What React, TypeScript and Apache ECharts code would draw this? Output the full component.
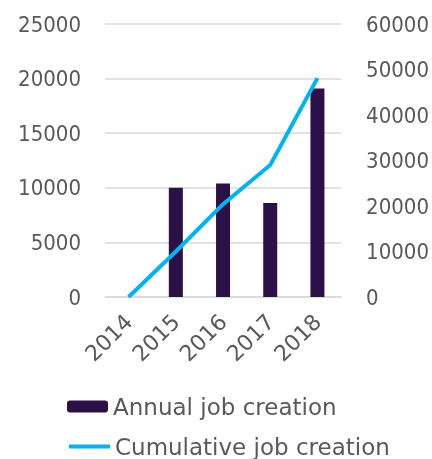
import React, { useEffect, useRef } from "react";
import * as echarts from "echarts";

const years = ["2014", "2015", "2016", "2017", "2018"];
const annualJobs = [null, 10000, 10400, 8600, 19100];
const cumulativeJobs = [0, 10000, 20400, 29000, 48100];
const leftTicks = { min: 0, max: 25000, interval: 5000 };
const rightTicks = { min: 0, max: 60000, interval: 10000 };

const FONT = "'DejaVu Sans Condensed', 'Noto Sans'";
const WIDE = "'DejaVu Sans', 'Noto Sans'";
const TEXT = "#595959";

export default function App() {
  const ref = useRef<HTMLDivElement>(null);
  useEffect(() => {
    if (!ref.current) return;
    const chart = echarts.init(ref.current, undefined, { renderer: "svg" });
    const plain = (v: number) => String(v);
    const legendBase = {
      orient: "vertical",
      left: 67,
      padding: 0,
      itemWidth: 41,
      itemHeight: 12,
      textStyle: { fontFamily: WIDE, fontSize: 23, color: TEXT },
    };
    chart.setOption({
      animation: false,
      textStyle: { fontFamily: FONT },
      grid: { left: 105, right: 90, top: 24, bottom: 162, containLabel: false },
      legend: [
        { ...legendBase, top: 395, data: [{ name: "Annual job creation" }] },
        {
          ...legendBase,
          top: 435,
          data: [
            {
              name: "Cumulative job creation",
              itemStyle: { opacity: 0 },
              lineStyle: { width: 4, color: "#00B4F0" },
            },
          ],
        },
      ],
      xAxis: {
        type: "category",
        data: years,
        axisTick: { show: false },
        axisLine: { lineStyle: { color: "#D9D9D9", width: 1.5 } },
        axisLabel: { rotate: 45, fontSize: 22, color: TEXT, fontFamily: WIDE, margin: 21 },
      },
      yAxis: [
        {
          type: "value",
          ...leftTicks,
          axisLine: { show: false },
          axisTick: { show: false },
          splitLine: { lineStyle: { color: "#D9D9D9", width: 1.5 } },
          axisLabel: { fontSize: 22, color: TEXT, fontFamily: FONT, margin: 24, formatter: plain },
        },
        {
          type: "value",
          ...rightTicks,
          position: "right",
          axisLine: { show: false },
          axisTick: { show: false },
          splitLine: { show: false },
          axisLabel: { fontSize: 22, color: TEXT, fontFamily: FONT, margin: 25, formatter: plain },
        },
      ],
      series: [
        {
          name: "Annual job creation",
          type: "bar",
          data: annualJobs,
          barWidth: 14,
          itemStyle: { color: "#2B1148" },
        },
        {
          name: "Cumulative job creation",
          type: "line",
          yAxisIndex: 1,
          data: cumulativeJobs,
          symbol: "none",
          lineStyle: { color: "#00B4F0", width: 4 },
          itemStyle: { color: "#00B4F0" },
        },
      ],
    });
    return () => chart.dispose();
  }, []);
  return (
    <div ref={ref} style={{ position: "fixed", left: 0, top: 0, width: 432, height: 459 }} />
  );
}
